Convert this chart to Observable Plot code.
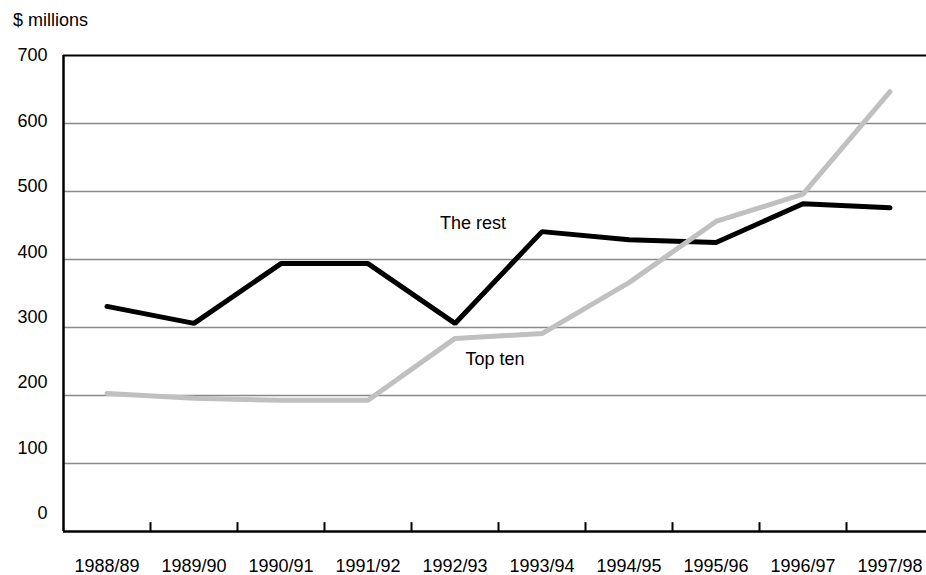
<!DOCTYPE html>
<html>
<head>
<meta charset="utf-8">
<script src="https://cdn.jsdelivr.net/npm/d3@7"></script>
<script src="https://cdn.jsdelivr.net/npm/@observablehq/plot@0.6"></script>
<style>
  body { margin: 0; background: white; font-family: "Liberation Sans", Arial, sans-serif; }
  #head { height: 40px; line-height: 40px; padding-left: 13px; font-size: 18px; color: #000; }
</style>
</head>
<body>
<div id="head">$ millions</div>
<div id="chart"></div>
<script>
const years = ["1988/89","1989/90","1990/91","1991/92","1992/93","1993/94","1994/95","1995/96","1996/97","1997/98"];
const theRest = [331, 306, 394, 394, 306, 441, 429, 425, 482, 476];
const topTen  = [203, 196, 193, 193, 284, 291, 366, 456, 496, 647];
const yTicks = [0, 100, 200, 300, 400, 500, 600, 700];
const gridValues = [100, 200, 300, 400, 500, 600];
const labels = [
  {year: "1992/93", value: 454, text: "The rest"},
  {year: "1992/93", value: 254, text: "Top ten"}
];

const data = [
  ...years.map((year, i) => ({year, value: theRest[i], series: "The rest"})),
  ...years.map((year, i) => ({year, value: topTen[i], series: "Top ten"}))
];

const halfStep = 43.5;
const fs = 18;

const chart = Plot.plot({
  width: 926,
  height: 535,
  marginTop: 15,
  marginBottom: 44,
  marginLeft: 63,
  marginRight: -7,
  style: {fontFamily: "'Liberation Sans', Arial, sans-serif", fontSize: fs + "px", color: "#000", background: "white"},
  x: {type: "band", domain: years, padding: 0, axis: null},
  y: {domain: [0, 700], axis: null},
  color: {domain: ["The rest", "Top ten"], range: ["#000000", "#c0c0c0"]},
  marks: [
    Plot.ruleY(gridValues, {stroke: "#888888", strokeWidth: 1.5}),
    Plot.ruleY([700], {stroke: "#000", strokeWidth: 2}),
    Plot.ruleY([0], {stroke: "#000", strokeWidth: 2.5}),
    Plot.ruleX([years[0]], {x: d => d, dx: -halfStep, y1: 0, y2: 700, stroke: "#000", strokeWidth: 2.5}),
    Plot.ruleX(years.slice(1), {x: d => d, dx: -halfStep, y1: 0, y2: 13, stroke: "#000", strokeWidth: 2}),
    Plot.text(years, {x: d => d, frameAnchor: "bottom", dy: 40, fontSize: fs}),
    Plot.text(yTicks, {y: d => 26.5 + d * 0.9621, frameAnchor: "left", dx: -16, textAnchor: "end", text: d => String(d), fontSize: fs}),
    Plot.line(data, {x: "year", y: "value", z: "series", stroke: "series", strokeWidth: 5, strokeLinecap: "round", strokeLinejoin: "miter"}),
    Plot.text(labels.slice(0, 1), {x: "year", y: "value", text: "text", dx: 18, fontSize: fs}),
    Plot.text(labels.slice(1), {x: "year", y: "value", text: "text", dx: 40, fontSize: fs})
  ]
});
document.getElementById("chart").appendChild(chart);
</script>
</body>
</html>
